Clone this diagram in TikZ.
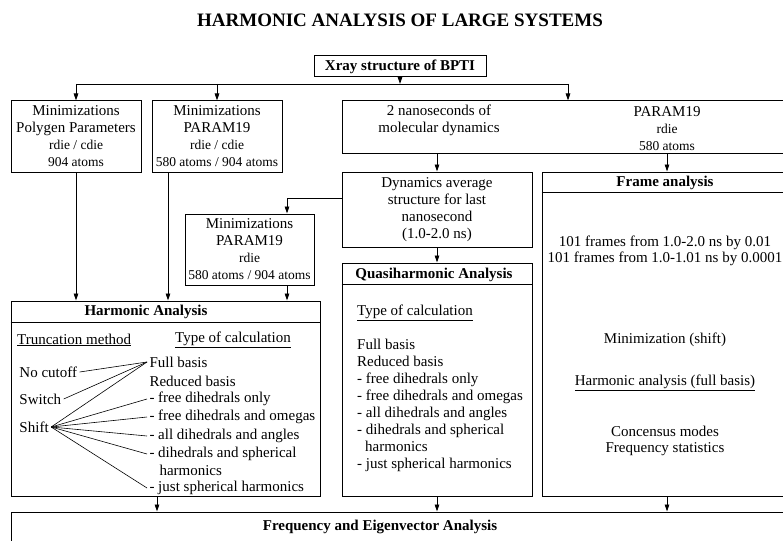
\documentclass[tikz,border=0pt]{standalone}
\usepackage{fontspec}
\setmainfont{Liberation Serif}
\usepackage{tikz}
\usetikzlibrary{arrows.meta}
\newcommand{\bodyfont}{\fontsize{15}{17}\selectfont}
\newcommand{\smallfont}{\fontsize{13.5}{16}\selectfont}

\begin{document}
\begin{tikzpicture}[x=1pt,y=-1pt,
  box/.style={draw,line width=1pt,inner sep=0pt,align=center,font=\bodyfont},
  txt/.style={inner sep=0pt,font=\bodyfont},
  head/.style={inner sep=0pt,font=\bodyfont\bfseries},
  item/.style={txt,anchor=west,outer sep=2.5pt},
  arr/.style={-{Triangle[length=7pt,width=4.5pt]},line width=0.8pt},
  ln/.style={line width=0.8pt},
  fan/.style={line width=0.6pt}]
\useasboundingbox (0,0) rectangle (783,540);
\clip (0,0) rectangle (783,540);

% Title
\node[inner sep=0pt,font=\fontsize{19}{22}\selectfont\bfseries] (title) at (400,20) {HARMONIC ANALYSIS OF LARGE SYSTEMS};

% Top of the tree
\node[box,font=\bodyfont\bfseries,minimum width=172,minimum height=21] (xray) at (400,66.5) {Xray structure of BPTI};
\coordinate (split) at (400,84);

% First row
\node[box,minimum width=130,minimum height=71] (minpoly) at (76,136.5) {Minimizations\\Polygen Parameters\\{\smallfont rdie / cdie}\\{\smallfont 904 atoms}};
\node[box,minimum width=130,minimum height=71] (minparam) at (217,136.5) {Minimizations\\PARAM19\\{\smallfont rdie / cdie}\\{\smallfont 580 atoms / 904 atoms}};
\node[box,minimum width=452,minimum height=53] (md) at (568,127.5) {};
\node[txt,align=center] (mdtext) at (439,120.5) {2 nanoseconds of\\molecular dynamics};
\node[txt,align=center] (mdparam) at (667,129) {PARAM19\\{\smallfont rdie}\\{\smallfont 580 atoms}};

% Second row
\node[box,minimum width=190,minimum height=75] (dynavg) at (437,209.5) {Dynamics average\\structure for last\\nanosecond\\(1.0-2.0 ns)};
\node[box,minimum width=129,minimum height=71] (min3) at (249.5,249.5) {Minimizations\\PARAM19\\{\smallfont rdie}\\{\smallfont 580 atoms / 904 atoms}};
\coordinate (bend) at (287,198);

% Frame analysis
\node[box,minimum width=250,minimum height=324] (frame) at (667,334) {};
\draw[ln] ([yshift=-21pt]frame.north west) -- ([yshift=-21pt]frame.north east);
\node[head] (framehead) at (665,183) {Frame analysis};
\node[txt,align=center,font=\fontsize{15}{16}\selectfont] (frames) at (665,251) {101 frames from 1.0-2.0 ns by 0.01\\101 frames from 1.0-1.01 ns by 0.0001};
\node[txt] (minshift) at (665,340) {Minimization (shift)};
\node[txt] (harmfull) at (665,383) {\underline{Harmonic analysis (full basis)}};
\node[txt,align=center,font=\fontsize{15}{16}\selectfont] (consensus) at (665,441) {Concensus modes\\Frequency statistics};

% Quasiharmonic analysis
\node[box,minimum width=190,minimum height=233] (quasi) at (437,379.5) {};
\draw[ln] ([yshift=-22pt]quasi.north west) -- ([yshift=-22pt]quasi.north east);
\node[head] (quasihead) at (434,275) {Quasiharmonic Analysis};
\node[txt,anchor=west] (quasitype) at (357,313) {\underline{Type of calculation}};
\node[txt,anchor=north west,align=left] (quasilist) at (357,339) {Full basis\\Reduced basis\\- free dihedrals only\\- free dihedrals and omegas\\- all dihedrals and angles\\- dihedrals and spherical\\\hspace*{8pt}harmonics\\- just spherical harmonics};

% Harmonic analysis
\node[box,minimum width=309,minimum height=195] (harm) at (165.5,398.5) {};
\draw[ln] ([yshift=-22pt]harm.north west) -- ([yshift=-22pt]harm.north east);
\node[head] (harmhead) at (146,312) {Harmonic Analysis};
\node[txt,anchor=west] (trunc) at (17,340) {\underline{Truncation method}};
\node[txt,anchor=west] (calctype) at (175,340) {\underline{Type of calculation}};
\node[item] (nocut) at (17,372) {No cutoff};
\node[item] (switch) at (17,399) {Switch};
\node[item] (shift) at (17,427) {Shift};
\node[item] (full) at (147,362) {Full basis};
\node[item] (reduced) at (147,381) {Reduced basis};
\node[item] (freeonly) at (147,399) {- free dihedrals only};
\node[item] (freeomega) at (147,417) {- free dihedrals and omegas};
\node[item] (alldih) at (147,436) {- all dihedrals and angles};
\node[item] (dihsph) at (147,454) {- dihedrals and spherical};
\node[item] (dihsph2) at (157,470) {harmonics};
\node[item] (justsph) at (147,488) {- just spherical harmonics};
\draw[fan] (nocut.east) -- (full.west);
\draw[fan] (switch.east) -- (full.west);
\draw[fan] (shift.east) -- (full.west);
\draw[fan] (shift.east) -- (freeonly.west);
\draw[fan] (shift.east) -- (freeomega.west);
\draw[fan] (shift.east) -- (alldih.west);
\draw[fan] (shift.east) -- (dihsph.west);
\draw[fan] (shift.east) -- (justsph.west);

% Frequency analysis
\node[box,minimum width=778,minimum height=50] (freq) at (400,537) {};
\node[head] (freqhead) at (380,527) {Frequency and Eigenvector Analysis};

% Connectors
\draw[arr] (xray) -- (split);
\draw[ln] (split -| minpoly.north) -- (split -| md.north);
\draw[arr] (split -| minpoly.north) -- (minpoly.north);
\draw[arr] (split -| minparam.north) -- (minparam.north);
\draw[arr] (split -| md.north) -- (md.north);
\draw[arr] (md.south -| dynavg.north) -- (dynavg.north);
\draw[arr] (md.south -| frame.north) -- (frame.north);
\draw[arr] (dynavg.south) -- (quasi.north);
\draw[arr] (dynavg.west |- bend) -- (bend) -- (bend |- min3.north);
\draw[arr] (minpoly.south) -- (minpoly.south |- harm.north);
\draw[arr] ([xshift=-49pt]minparam.south) -- ([xshift=-49pt]minparam.south |- harm.north);
\draw[arr] (min3.south -| bend) -- (bend |- harm.north);
\draw[arr] ([xshift=-8.5pt]harm.south) -- ([xshift=-8.5pt]harm.south |- freq.north);
\draw[arr] (quasi.south) -- (quasi.south |- freq.north);
\draw[arr] (frame.south) -- (frame.south |- freq.north);

\end{tikzpicture}
\end{document}
